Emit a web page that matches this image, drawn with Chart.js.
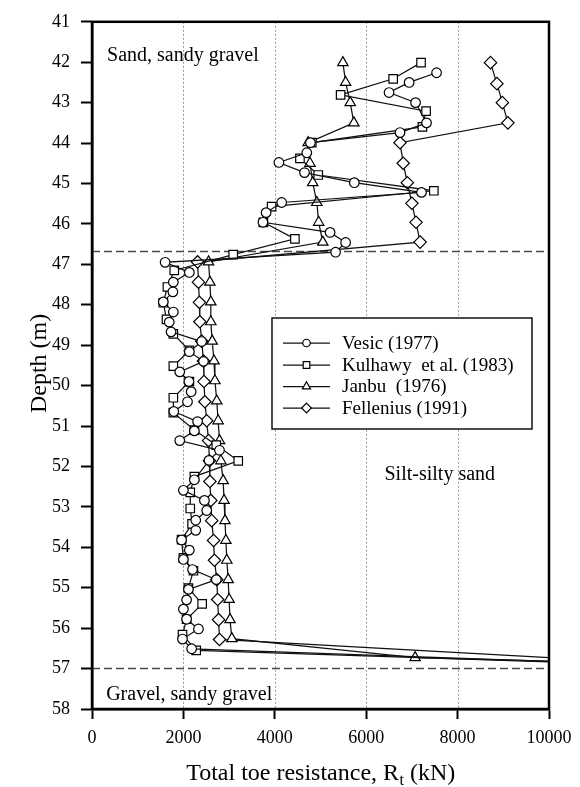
<!DOCTYPE html>
<html>
<head>
<meta charset="utf-8">
<script src="https://cdn.jsdelivr.net/npm/chart.js@4.4.1/dist/chart.umd.min.js"></script>
<style>
  html, body { margin: 0; padding: 0; background: #ffffff; }
  #wrap { width: 580px; height: 787px; }
  canvas { display: block; }
</style>
</head>
<body>
<div id="wrap"><canvas id="toe" width="580" height="787"></canvas></div>
<script>
// Total toe resistance Rt (kN) computed by four methods, versus depth (m)

const vesicDepth = [42.26, 42.50, 42.75, 43.00, 43.50, 43.74, 43.99, 44.24, 44.48, 44.73, 44.98, 45.22,
  45.47, 45.72, 45.96, 46.21, 46.46, 46.70, 46.95, 47.20, 47.44, 47.68, 47.93, 48.18, 48.43, 48.67,
  48.91, 49.16, 49.40, 49.66, 49.90, 50.15, 50.40, 50.64, 50.89, 51.12, 51.36, 51.60, 51.85, 52.33,
  52.59, 52.84, 53.09, 53.33, 53.58, 53.82, 54.07, 54.30, 54.55, 54.80, 55.04, 55.30, 55.53, 55.78,
  56.02, 56.27, 56.51, 56.98];
const vesicRt = [7540, 6940, 6500, 7080, 7320, 6740, 4780, 4700, 4090, 4650, 5740, 7210,
  4150, 3810, 3740, 5210, 5550, 5330, 1600, 2130, 1780, 1770, 1560, 1780, 1690, 1730,
  2400, 2130, 2440, 1920, 2120, 2170, 2090, 1790, 2310, 2240, 1920, 2790, 2560, 2240,
  2000, 2460, 2510, 2270, 2270, 1960, 2130, 2000, 2200, 2720, 2110, 2070, 2000, 2070,
  2330, 1980, 2180, 14000];

const kulhawyDepth = [42.01, 42.41, 42.81, 43.21, 43.60, 43.99, 44.38, 44.79, 45.18, 45.57, 45.96, 46.37,
  46.76, 47.15, 47.56, 47.95, 48.36, 48.72, 49.13, 49.52, 49.90, 50.30, 50.67, 51.10, 51.47, 51.86,
  52.25, 52.64, 53.04, 53.42, 53.81, 54.26, 54.58, 55.01, 55.40, 55.78, 56.16, 56.55, 57.00];
const kulhawyRt = [7200, 6590, 5440, 7310, 7230, 4810, 4550, 4950, 7480, 3930, 3750, 4440,
  3090, 1800, 1650, 1560, 1630, 1780, 2130, 1780, 2130, 1780, 1780, 2240, 2720, 3200,
  2240, 2150, 2150, 2190, 1960, 2000, 2220, 2110, 2410, 2070, 1980, 2280, 14500];

const janbuDepth = [42.01, 42.50, 43.00, 43.50, 43.99, 44.50, 44.98, 45.47, 45.96, 46.45,
  46.94, 47.44, 47.93, 48.42, 48.90, 49.39, 49.88, 50.38, 50.87, 51.36, 51.86,
  52.35, 52.84, 53.34, 53.83, 54.32, 54.80, 55.29, 55.79, 56.26, 56.73, 57.00];
const janbuRt = [5490, 5550, 5650, 5730, 4730, 4770, 4830, 4920, 4960, 5050,
  2550, 2580, 2600, 2600, 2630, 2670, 2690, 2730, 2760, 2790, 2820,
  2870, 2890, 2910, 2930, 2950, 2980, 3000, 3020, 3060, 7070, 16000];

const felleniusDepth = [42.01, 42.53, 43.00, 43.50, 43.99, 44.50, 44.98, 45.49, 45.96, 46.45,
  46.94, 47.44, 47.94, 48.42, 48.90, 49.39, 49.90, 50.40, 50.87, 51.36, 51.86,
  52.37, 52.84, 53.34, 53.83, 54.32, 54.80, 55.29, 55.79, 56.28, 57.04];
const felleniusRt = [8720, 8860, 8980, 9100, 6740, 6810, 6900, 7000, 7090, 7180,
  2310, 2330, 2350, 2360, 2400, 2440, 2450, 2470, 2510, 2550, 2570,
  2580, 2600, 2620, 2660, 2680, 2730, 2750, 2770, 2790, 15000];

const methodNames = ['Vesic (1977)', 'Kulhawy  et al. (1983)', 'Janbu  (1976)', 'Fellenius (1991)'];
const layerBoundaries = [46.68, 57.0];
const layerNames = ['Sand, sandy gravel', 'Silt-silty sand', 'Gravel, sandy gravel'];
const depthRange = [41, 58];
const rtRange = [0, 10000];
const depthStep = 1;
const rtStep = 2000;
const xTitle = ['Total toe resistance, R', 't', ' (kN)'];
const yTitle = 'Depth (m)';

const SERIF = "'Liberation Serif', 'Times New Roman', serif";

const methods = [
  { name: methodNames[0], depth: vesicDepth, rt: vesicRt, marker: 'circle', r: 4.8 },
  { name: methodNames[1], depth: kulhawyDepth, rt: kulhawyRt, marker: 'rect', r: 6.0 },
  { name: methodNames[2], depth: janbuDepth, rt: janbuRt, marker: 'triangle', r: 6.0 },
  { name: methodNames[3], depth: felleniusDepth, rt: felleniusRt, marker: 'rectRot', r: 6.2 }
];

const datasets = methods.map((m, i) => ({
  label: m.name,
  data: m.depth.map((d, k) => ({ x: m.rt[k], y: d })),
  showLine: true,
  tension: 0,
  borderColor: '#111111',
  borderWidth: 1.25,
  pointStyle: m.marker,
  pointRadius: m.r,
  pointHoverRadius: m.r,
  pointBackgroundColor: '#ffffff',
  pointBorderColor: '#000000',
  pointBorderWidth: 1.2,
  order: i
}));

layerBoundaries.forEach(d => {
  datasets.push({
    label: '',
    boundary: true,
    data: [{ x: rtRange[0], y: d }, { x: rtRange[1], y: d }],
    showLine: true,
    borderColor: '#4a4a4a',
    borderWidth: 1.5,
    borderDash: [8, 4],
    pointRadius: 0,
    order: 10
  });
});

// marker shapes for the legend, same geometry as the chart points
function drawMarker(ctx, style, r, x, y) {
  ctx.beginPath();
  if (style === 'circle') {
    ctx.arc(x, y, r, 0, Math.PI * 2);
  } else if (style === 'rect') {
    const s = r * Math.SQRT1_2;
    ctx.rect(x - s, y - s, 2 * s, 2 * s);
  } else if (style === 'triangle') {
    for (let k = 0; k < 3; k++) {
      const a = k * 2 * Math.PI / 3;
      const px = x + Math.sin(a) * r, py = y - Math.cos(a) * r;
      if (k === 0) ctx.moveTo(px, py); else ctx.lineTo(px, py);
    }
    ctx.closePath();
  } else {
    ctx.moveTo(x, y - r); ctx.lineTo(x + r, y); ctx.lineTo(x, y + r); ctx.lineTo(x - r, y);
    ctx.closePath();
  }
  ctx.fillStyle = '#ffffff';
  ctx.fill();
  ctx.lineWidth = 1.2;
  ctx.strokeStyle = '#000000';
  ctx.stroke();
}

const decorations = {
  id: 'decorations',
  beforeDatasetsDraw(chart) {
    const { ctx, chartArea: a, scales: { x } } = chart;
    ctx.save();
    ctx.strokeStyle = '#9a9a9a';
    ctx.lineWidth = 1;
    ctx.setLineDash([2, 2]);
    for (let v = rtRange[0] + rtStep; v < rtRange[1]; v += rtStep) {
      const px = Math.round(x.getPixelForValue(v)) + 0.5;
      ctx.beginPath();
      ctx.moveTo(px, a.top);
      ctx.lineTo(px, a.bottom);
      ctx.stroke();
    }
    ctx.restore();
  },
  afterDatasetsDraw(chart) {
    const { ctx, chartArea: a, scales: { x, y } } = chart;
    ctx.save();

    // plot frame
    ctx.strokeStyle = '#000';
    ctx.lineWidth = 2.5;
    ctx.strokeRect(a.left, a.top, a.right - a.left, a.bottom - a.top);

    // soil layer names
    ctx.fillStyle = '#000';
    ctx.font = '20px ' + SERIF;
    ctx.textAlign = 'left';
    ctx.textBaseline = 'alphabetic';
    ctx.fillText(layerNames[0], x.getPixelForValue(330), y.getPixelForValue(41.97));
    ctx.fillText(layerNames[1], x.getPixelForValue(6400), y.getPixelForValue(52.33));
    ctx.fillText(layerNames[2], x.getPixelForValue(310), y.getPixelForValue(57.77));

    // legend
    const bx = 272, by = 318, bw = 260, bh = 111;
    ctx.fillStyle = '#fff';
    ctx.fillRect(bx, by, bw, bh);
    ctx.lineWidth = 1.4;
    ctx.strokeStyle = '#000';
    ctx.strokeRect(bx, by, bw, bh);
    const rows = [343, 365, 386.5, 408];
    methods.forEach((m, i) => {
      const ry = rows[i];
      ctx.beginPath();
      ctx.lineWidth = 1.25;
      ctx.strokeStyle = '#111111';
      ctx.moveTo(283, ry);
      ctx.lineTo(330, ry);
      ctx.stroke();
      drawMarker(ctx, m.marker, m.r * 0.78, 306.5, ry);
      ctx.fillStyle = '#000';
      ctx.font = '19px ' + SERIF;
      ctx.textAlign = 'left';
      ctx.textBaseline = 'middle';
      ctx.fillText(m.name, 342, ry + 1);
    });

    // axis titles
    ctx.fillStyle = '#000';
    ctx.textBaseline = 'alphabetic';
    ctx.textAlign = 'left';
    ctx.font = '24px ' + SERIF;
    const w1 = ctx.measureText(xTitle[0]).width;
    const w3 = ctx.measureText(xTitle[2]).width;
    ctx.font = '16px ' + SERIF;
    const w2 = ctx.measureText(xTitle[1]).width;
    const cx = (a.left + a.right) / 2;
    let tx = cx - (w1 + w2 + w3) / 2;
    const ty = 780;
    ctx.font = '24px ' + SERIF;
    ctx.fillText(xTitle[0], tx, ty);
    tx += w1;
    ctx.font = '16px ' + SERIF;
    ctx.fillText(xTitle[1], tx + 0.5, ty + 5);
    tx += w2 + 0.5;
    ctx.font = '24px ' + SERIF;
    ctx.fillText(xTitle[2], tx, ty);

    ctx.translate(40, (a.top + a.bottom) / 2 - 2);
    ctx.rotate(-Math.PI / 2);
    ctx.textAlign = 'center';
    ctx.textBaseline = 'middle';
    ctx.font = '24px ' + SERIF;
    ctx.fillText(yTitle, 0, 0);
    ctx.restore();
  }
};

new Chart(document.getElementById('toe'), {
  type: 'scatter',
  data: { datasets },
  plugins: [decorations],
  options: {
    responsive: false,
    animation: false,
    devicePixelRatio: 1,
    events: [],
    layout: { padding: { top: 20, right: 31, bottom: 0, left: 0 } },
    plugins: { legend: { display: false }, tooltip: { enabled: false } },
    scales: {
      x: {
        type: 'linear',
        min: rtRange[0],
        max: rtRange[1],
        ticks: {
          stepSize: rtStep,
          autoSkip: false,
          maxRotation: 0,
          padding: 8,
          color: '#000',
          font: { family: SERIF, size: 18 },
          callback: v => String(v)
        },
        grid: { drawOnChartArea: false, drawTicks: true, tickLength: 10, tickColor: '#000', tickWidth: 2 },
        border: { display: true, color: '#000', width: 2.5 },
        afterFit: s => { s.height = 78; }
      },
      y: {
        type: 'linear',
        reverse: true,
        min: depthRange[0],
        max: depthRange[1],
        ticks: {
          stepSize: depthStep,
          autoSkip: false,
          padding: 11,
          color: '#000',
          font: { family: SERIF, size: 18 },
          callback: v => String(v)
        },
        grid: { drawOnChartArea: false, drawTicks: true, tickLength: 11, tickColor: '#000', tickWidth: 2 },
        border: { display: true, color: '#000', width: 2.5 },
        afterFit: s => { s.width = 92; }
      }
    }
  }
});
</script>
</body>
</html>
